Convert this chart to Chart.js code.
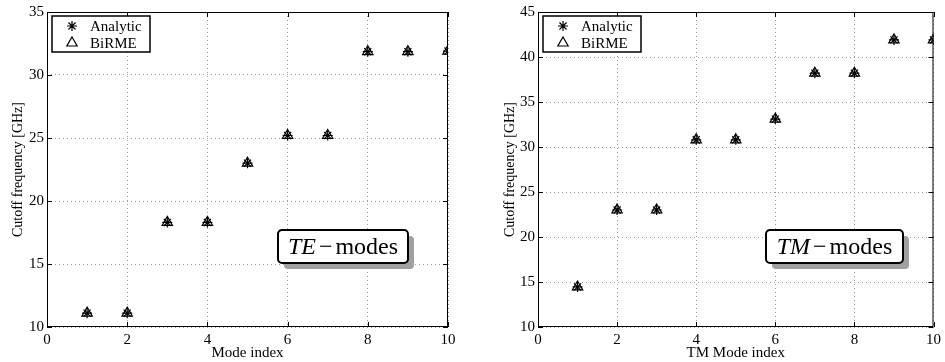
<!DOCTYPE html>
<html>
<head>
<meta charset="utf-8">
<script src="https://cdn.jsdelivr.net/npm/chart.js@4"></script>
<style>
  html, body { margin: 0; padding: 0; background: #fff; }
  .wrap { position: relative; width: 945px; height: 362px; }
  .box { position: absolute; top: 0; height: 362px; }
</style>
</head>
<body>
<div class="wrap">
  <div class="box" style="left:0;width:470px"><canvas id="teChart"></canvas></div>
  <div class="box" style="left:470px;width:475px"><canvas id="tmChart"></canvas></div>
</div>
<script>
const modeIndex = [1, 2, 3, 4, 5, 6, 7, 8, 9, 10];
const teAnalytic = [11.1, 11.1, 18.3, 18.3, 23.0, 25.2, 25.2, 31.85, 31.85, 31.9];
const teBirme = [11.1, 11.1, 18.3, 18.3, 23.0, 25.2, 25.2, 31.85, 31.85, 31.9];
const tmAnalytic = [14.45, 23.0, 23.0, 30.8, 30.8, 33.1, 38.2, 38.2, 41.9, 41.9];
const tmBirme = [14.45, 23.0, 23.0, 30.8, 30.8, 33.1, 38.2, 38.2, 41.9, 41.9];
const xTicks = [0, 2, 4, 6, 8, 10];
const teYTicks = [10, 15, 20, 25, 30, 35];
const tmYTicks = [10, 15, 20, 25, 30, 35, 40, 45];
const legendLabels = ['Analytic', 'BiRME'];

const serif = '"Liberation Serif", "DejaVu Serif", serif';

// frame, inward ticks, legend and mode label
const decorPlugin = {
  id: 'decor',
  afterDraw(chart, args, opts) {
    const ctx = chart.ctx;
    const a = chart.chartArea;
    const xs = chart.scales.x, ys = chart.scales.y;
    ctx.save();
    ctx.strokeStyle = '#000';
    ctx.lineWidth = 1;
    ctx.strokeRect(a.left + 0.5, a.top + 0.5, a.right - a.left - 1, a.bottom - a.top - 1);
    ctx.beginPath();
    xs.ticks.forEach(t => {
      const px = Math.round(xs.getPixelForValue(t.value)) + 0.5;
      ctx.moveTo(px, a.bottom); ctx.lineTo(px, a.bottom - 5);
      ctx.moveTo(px, a.top); ctx.lineTo(px, a.top + 5);
    });
    ys.ticks.forEach(t => {
      const py = Math.round(ys.getPixelForValue(t.value)) + 0.5;
      ctx.moveTo(a.left, py); ctx.lineTo(a.left + 5, py);
      ctx.moveTo(a.right, py); ctx.lineTo(a.right - 5, py);
    });
    ctx.stroke();

    // legend box
    const lx = a.left + 5, ly = a.top + 4, lw = 98, lh = 36;
    ctx.fillStyle = '#fff';
    ctx.fillRect(lx, ly, lw, lh);
    ctx.lineWidth = 1.5;
    ctx.strokeRect(lx, ly, lw, lh);
    ctx.textBaseline = 'middle';
    chart.data.datasets.forEach((ds, i) => {
      const y = ly + 10 + i * 17;
      ctx.fillStyle = ds.backgroundColor;
      ctx.strokeStyle = '#000';
      ctx.lineWidth = 1.2;
      Chart.helpers.drawPoint(ctx, {
        pointStyle: ds.pointStyle, radius: ds.pointRadius, borderWidth: 1.2
      }, lx + 20, y);
      ctx.fillStyle = '#000';
      ctx.font = '15px ' + serif;
      ctx.fillText(legendLabels[i], lx + 38, y + 1);
    });

    // mode label with shadow
    const bx = a.left + opts.x, by = a.top + opts.y, bw = opts.w, bh = 33;
    ctx.fillStyle = '#a0a0a0';
    ctx.beginPath();
    ctx.roundRect(bx + 6, by + 6, bw, bh, 4);
    ctx.fill();
    ctx.fillStyle = '#fff';
    ctx.beginPath();
    ctx.roundRect(bx, by, bw, bh, 4);
    ctx.fill();
    ctx.lineWidth = 2;
    ctx.strokeStyle = '#000';
    ctx.stroke();
    ctx.fillStyle = '#000';
    ctx.textBaseline = 'middle';
    ctx.font = 'italic 24px ' + serif;
    const ital = opts.label;
    const w1 = ctx.measureText(ital).width;
    ctx.font = '24px ' + serif;
    const minus = '\u2212', rest = 'modes';
    const wm = ctx.measureText(minus).width;
    const w2 = ctx.measureText(rest).width;
    const gap = 3;
    const tx = bx + (bw - w1 - wm - w2 - 2 * gap) / 2;
    const ty = by + bh / 2 + 1;
    ctx.font = 'italic 24px ' + serif;
    ctx.fillText(ital, tx, ty);
    ctx.font = '24px ' + serif;
    ctx.fillText(minus, tx + w1 + gap, ty);
    ctx.fillText(rest, tx + w1 + wm + 2 * gap, ty);
    ctx.restore();
  }
};

function makeChart(id, analytic, birme, yTicks, xTitle, yWidth, rightPad, yTitlePad, label, boxX, boxW) {
  const toPts = vals => vals.map((v, i) => ({ x: modeIndex[i], y: v }));
  new Chart(document.getElementById(id), {
    type: 'scatter',
    data: {
      datasets: [
        { label: legendLabels[0], data: toPts(analytic), pointStyle: 'star', pointRadius: 5,
          borderColor: '#000', backgroundColor: '#000', borderWidth: 1.2 },
        { label: legendLabels[1], data: toPts(birme), pointStyle: 'triangle', pointRadius: 6,
          borderColor: '#000', backgroundColor: 'rgba(0,0,0,0)', borderWidth: 1.2 }
      ]
    },
    options: {
      responsive: true,
      maintainAspectRatio: false,
      animation: false,
      layout: { padding: { top: 12, right: rightPad, left: 0, bottom: 0 } },
      plugins: {
        legend: { display: false },
        tooltip: { enabled: false },
        decor: { label: label, x: boxX, y: 218, w: boxW }
      },
      scales: {
        x: {
          type: 'linear', min: xTicks[0], max: xTicks[xTicks.length - 1],
          afterBuildTicks: s => { s.ticks = xTicks.map(v => ({ value: v })); },
          afterFit: s => { s.height = 35; },
          grid: { color: '#999', lineWidth: 1, drawTicks: false },
          border: { display: false, dash: [1, 3] },
          ticks: { color: '#000', font: { family: serif, size: 15 }, padding: 4, maxRotation: 0 },
          title: { display: true, text: xTitle, color: '#000', font: { family: serif, size: 15 }, padding: { top: -6, bottom: 0 } }
        },
        y: {
          type: 'linear', min: yTicks[0], max: yTicks[yTicks.length - 1],
          afterBuildTicks: s => { s.ticks = yTicks.map(v => ({ value: v })); },
          afterFit: s => { s.width = yWidth; },
          grid: { color: '#999', lineWidth: 1, drawTicks: false },
          border: { display: false, dash: [1, 3] },
          ticks: { color: '#000', font: { family: serif, size: 15 }, padding: 3 },
          title: { display: true, text: 'Cutoff frequency [GHz]', color: '#000', font: { family: serif, size: 14 }, padding: { top: yTitlePad, bottom: 0 } }
        }
      }
    },
    plugins: [decorPlugin]
  });
}

makeChart('teChart', teAnalytic, teBirme, teYTicks, 'Mode index', 47, 22, 10, 'TE', 231, 130);
makeChart('tmChart', tmAnalytic, tmBirme, tmYTicks, 'TM Mode index', 68, 6, 32, 'TM', 228, 137);
</script>
</body>
</html>
